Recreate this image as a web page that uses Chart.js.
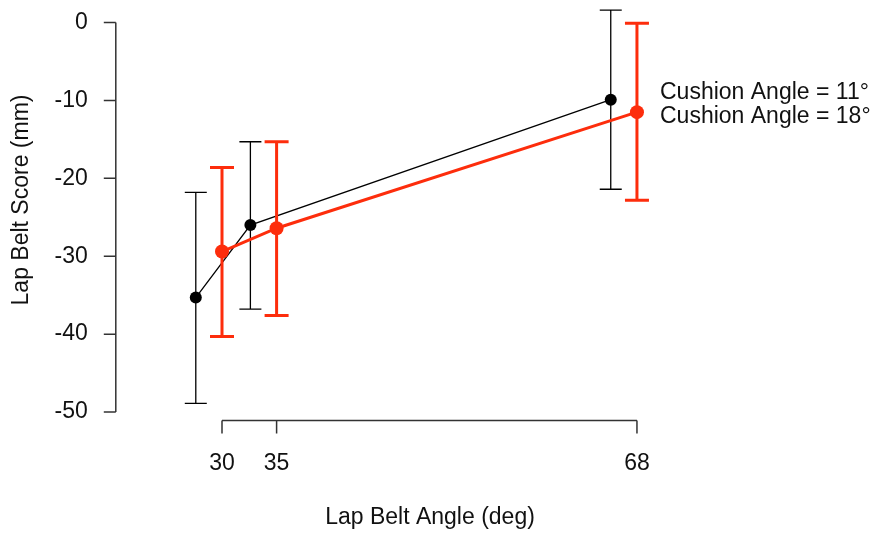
<!DOCTYPE html>
<html>
<head>
<meta charset="utf-8">
<title>Lap Belt Score</title>
<script src="https://cdn.jsdelivr.net/npm/chart.js@4.4.1/dist/chart.umd.min.js"></script>
<style>
  html, body { margin: 0; padding: 0; background: #fff; }
  #wrap { width: 870px; height: 534px; position: relative; }
</style>
</head>
<body>
<div id="wrap"><canvas id="chart"></canvas></div>
<script>
// lap belt angle (deg) for each test, the 11 deg series is nudged left
var angles11 = [27.6, 32.6, 65.6];
var angles18 = [30, 35, 68];

// mean score and error bar ends (mm)
var score11 = [-35.3, -26.0, -9.9];
var low11   = [-48.9, -36.8, -21.4];
var high11  = [-21.8, -15.3, 1.6];

var score18 = [-29.4, -26.4, -11.5];
var low18   = [-40.3, -37.6, -22.8];
var high18  = [-18.6, -15.3, -0.1];

var xTicks = [30, 35, 68];
var yTicks = [0, -10, -20, -30, -40, -50];
var seriesNames = ['Cushion Angle = 11\u00b0', 'Cushion Angle = 18\u00b0'];

var RED = '#fd2d0c';
var FONT = '23px "Liberation Sans", Arial, Helvetica, sans-serif';

function points(xs, ys) {
    return xs.map(function (x, i) { return { x: x, y: ys[i] }; });
}

// vertical error bars with caps, drawn under each series' line
var errorBars = {
    id: 'errorBars',
    beforeDatasetDraw: function (chart, args) {
        var ds = chart.data.datasets[args.index];
        var xs = chart.scales.x, ys = chart.scales.y;
        var ctx = chart.ctx;
        ctx.save();
        ctx.strokeStyle = ds.borderColor;
        ctx.lineWidth = ds.barWidth;
        ds.data.forEach(function (p, i) {
            var px = xs.getPixelForValue(p.x);
            var top = ys.getPixelForValue(ds.high[i]);
            var bot = ys.getPixelForValue(ds.low[i]);
            ctx.beginPath();
            ctx.moveTo(px, top); ctx.lineTo(px, bot);
            ctx.moveTo(px - ds.cap, top); ctx.lineTo(px + ds.cap, top);
            ctx.moveTo(px - ds.cap, bot); ctx.lineTo(px + ds.cap, bot);
            ctx.stroke();
        });
        ctx.restore();
    }
};

// base-graphics style axes that only span the tick range, plus titles and legend
var rAxes = {
    id: 'rAxes',
    afterDraw: function (chart) {
        var ctx = chart.ctx;
        var xs = chart.scales.x, ys = chart.scales.y;
        var axisX = chart.chartArea.left + 3;
        var axisY = ys.getPixelForValue(-51.1);
        ctx.save();
        ctx.strokeStyle = '#333';
        ctx.lineWidth = 1.5;
        ctx.fillStyle = '#111';
        ctx.font = FONT;

        // y axis
        var y0 = ys.getPixelForValue(yTicks[0]);
        var y1 = ys.getPixelForValue(yTicks[yTicks.length - 1]);
        ctx.beginPath();
        ctx.moveTo(axisX, y0); ctx.lineTo(axisX, y1);
        yTicks.forEach(function (v) {
            var py = ys.getPixelForValue(v);
            ctx.moveTo(axisX, py); ctx.lineTo(axisX - 12, py);
        });
        ctx.stroke();
        ctx.textAlign = 'right';
        ctx.textBaseline = 'middle';
        yTicks.forEach(function (v) {
            ctx.fillText(String(v), axisX - 28, ys.getPixelForValue(v));
        });

        // x axis
        var x0 = xs.getPixelForValue(xTicks[0]);
        var x1 = xs.getPixelForValue(xTicks[xTicks.length - 1]);
        ctx.beginPath();
        ctx.moveTo(x0, axisY); ctx.lineTo(x1, axisY);
        xTicks.forEach(function (v) {
            var px = xs.getPixelForValue(v);
            ctx.moveTo(px, axisY); ctx.lineTo(px, axisY + 13);
        });
        ctx.stroke();
        ctx.textAlign = 'center';
        xTicks.forEach(function (v) {
            ctx.fillText(String(v), xs.getPixelForValue(v), axisY + 43);
        });

        // axis titles
        ctx.fillText('Lap Belt Angle (deg)', 430, 518);
        ctx.save();
        ctx.translate(22, 200);
        ctx.rotate(-Math.PI / 2);
        ctx.fillText('Lap Belt Score (mm)', 0, 0);
        ctx.restore();

        // legend, text only
        ctx.textAlign = 'left';
        ctx.fillText(seriesNames[0], 660, 93);
        ctx.fillText(seriesNames[1], 660, 117);
        ctx.restore();
    }
};

new Chart(document.getElementById('chart'), {
    type: 'scatter',
    data: {
        datasets: [{
            label: seriesNames[0],
            data: points(angles11, score11),
            low: low11, high: high11,
            showLine: true,
            borderColor: '#000',
            backgroundColor: '#000',
            borderWidth: 1.3,
            pointRadius: 6,
            pointBorderWidth: 0,
            barWidth: 1.3,
            cap: 11,
            order: 2,
            clip: false
        }, {
            label: seriesNames[1],
            data: points(angles18, score18),
            low: low18, high: high18,
            showLine: true,
            borderColor: RED,
            backgroundColor: RED,
            borderWidth: 3,
            pointRadius: 7,
            pointBorderWidth: 0,
            barWidth: 3,
            cap: 12,
            order: 1,
            clip: false
        }]
    },
    options: {
        responsive: true,
        maintainAspectRatio: false,
        animation: false,
        layout: { padding: { left: 112.8, right: 156.6, top: 6.4, bottom: 106.4 } },
        scales: {
            x: { type: 'linear', min: 20, max: 75, display: false },
            y: { type: 'linear', min: -52, max: 2, display: false }
        },
        plugins: {
            legend: { display: false },
            tooltip: { enabled: false },
            title: { display: false }
        }
    },
    plugins: [errorBars, rAxes]
});
</script>
</body>
</html>
